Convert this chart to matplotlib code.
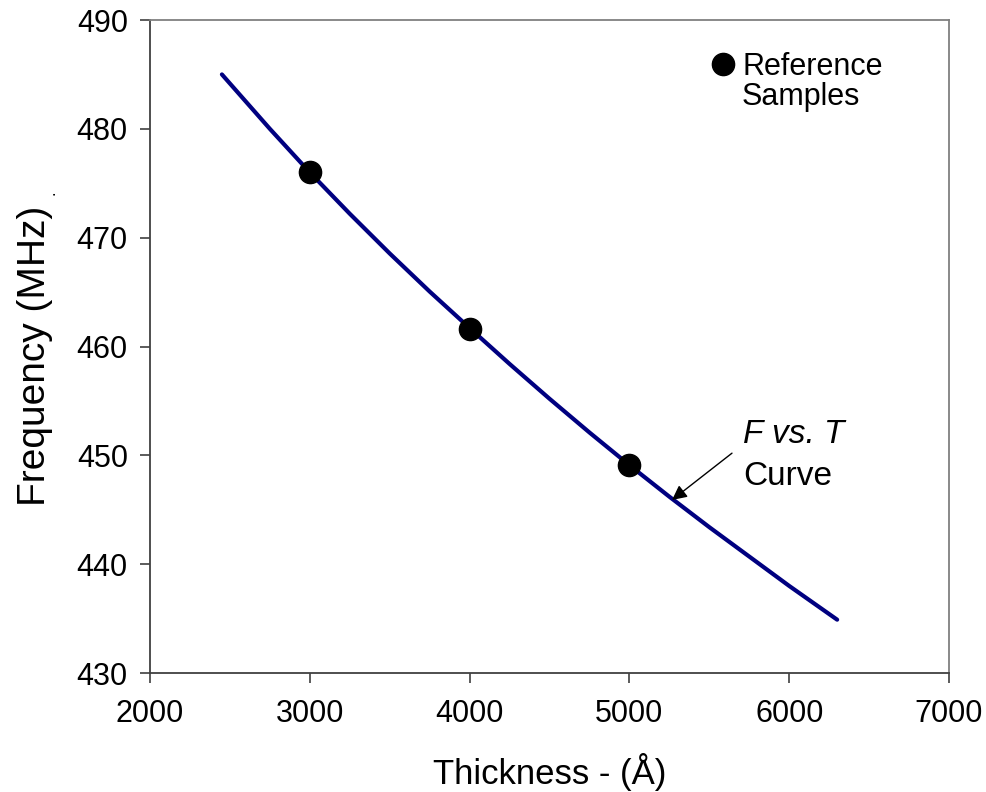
import numpy as np
import matplotlib
matplotlib.use("Agg")
import matplotlib.pyplot as plt
from matplotlib.lines import Line2D

plt.rcParams["font.family"] = ["Liberation Sans", "DejaVu Sans"]

# F vs. T curve
curve_thickness = [2450, 2750, 3000, 3250, 3500, 3750, 4000, 4250, 4500,
                   4750, 5000, 5250, 5500, 5750, 6000, 6300]
curve_freq = [485.0, 480.0, 476.0, 472.2, 468.55, 465.05, 461.7, 458.4, 455.2,
              452.1, 449.1, 446.2, 443.4, 440.7, 438.0, 434.9]

# reference samples
sample_thickness = [3000, 4000, 5000]
sample_freq = [476.0, 461.6, 449.1]

x_ticks = [2000, 3000, 4000, 5000, 6000, 7000]
y_ticks = [430, 440, 450, 460, 470, 480, 490]

W, H = 987, 792
fig = plt.figure(figsize=(W / 100, H / 100), dpi=100)
ax = fig.add_axes([150 / W, 1 - 673 / H, 799 / W, 653 / H])

ax.plot(curve_thickness, curve_freq, color="#000080", lw=3, solid_capstyle="round", zorder=2)
ax.plot(sample_thickness, sample_freq, "o", color="black", ms=16, zorder=3)

ax.set_xlim(2000, 7000)
ax.set_ylim(430, 490)
ax.set_xticks(x_ticks)
ax.set_yticks(y_ticks)
ax.tick_params(direction="out", length=7, width=1.2, color="#404040", labelsize=22)
ax.tick_params(axis="y", pad=9)
ax.tick_params(axis="x", pad=12)

for side in ["left", "bottom"]:
    ax.spines[side].set_color("#404040")
    ax.spines[side].set_linewidth(1.3)
for side in ["top", "right"]:
    ax.spines[side].set_color("#808080")
    ax.spines[side].set_linewidth(1.3)

ax.set_xlabel("Thickness - (Å)", fontsize=25)
ax.xaxis.set_label_coords(0.5, -0.122)
ax.set_ylabel("Frequency (MHz)", fontsize=28)
ax.yaxis.set_label_coords(-0.121, 0.485)
fig.text(50 / W, 1 - 193 / H, ".", fontsize=12, rotation=90, ha="center", va="center")

# legend key for the reference samples
handle = Line2D([], [], marker="o", ls="none", color="black", ms=16)
leg = ax.legend([handle], ["Reference"], loc="upper left", frameon=False,
                fontsize=22, handlelength=0.5, handletextpad=0.4, borderpad=0,
                borderaxespad=0, bbox_to_anchor=(715 / W, 1 - 52 / H),
                bbox_transform=fig.transFigure)
ax.text(5705, 482.2, "Samples", fontsize=22, ha="left", va="baseline")

# annotation for the curve
ax.annotate("", xy=(5267, 445.9), xytext=(5642, 450.2),
            arrowprops=dict(arrowstyle="-|>", color="black", lw=1,
                            mutation_scale=22, shrinkA=0, shrinkB=0))
ax.text(5711, 451.1, "F vs. T", fontsize=24, style="italic", ha="left", va="baseline")
ax.text(5711, 447.3, "Curve", fontsize=24, ha="left", va="baseline")

fig.savefig("out.png", dpi=100)
